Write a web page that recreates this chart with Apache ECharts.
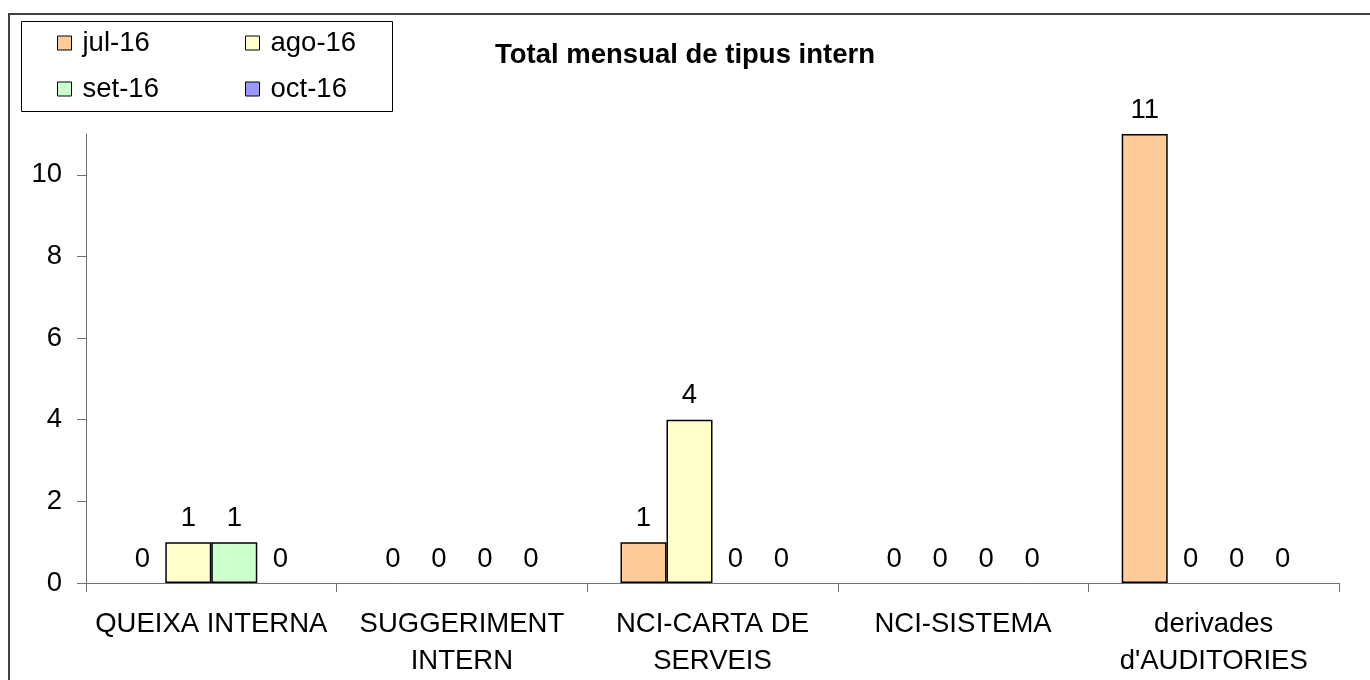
<!DOCTYPE html>
<html>
<head>
<meta charset="utf-8">
<title>Total mensual de tipus intern</title>
<script src="https://cdn.jsdelivr.net/npm/echarts@6/dist/echarts.min.js"></script>
<style>
  html, body { margin: 0; padding: 0; background: #fff; }
  #chart { width: 1370px; height: 680px; }
</style>
</head>
<body>
<div id="chart"></div>
<script>
// categories (x axis)
const categories = [
  "QUEIXA INTERNA",
  "SUGGERIMENT\nINTERN",
  "NCI-CARTA DE\nSERVEIS",
  "NCI-SISTEMA",
  "derivades\nd'AUDITORIES"
];

// months
const months = ["jul-16", "ago-16", "set-16", "oct-16"];

// values per month
const jul16 = [0, 0, 1, 0, 11];
const ago16 = [1, 0, 4, 0, 0];
const set16 = [1, 0, 0, 0, 0];
const oct16 = [0, 0, 0, 0, 0];

const yTicks = [0, 2, 4, 6, 8, 10];
const yMax = 11;

const monthColors = ["#FFCC99", "#FFFFCC", "#CCFFCC", "#9999FF"];
const font = "'Liberation Sans', Arial, sans-serif";
const fs = 27.5;

const chart = echarts.init(document.getElementById("chart"));

const seriesData = [jul16, ago16, set16, oct16];

const legendStyle = {
  orient: "vertical",
  top: 28,
  padding: 0,
  itemWidth: 14,
  itemHeight: 14,
  itemGap: 16,
  icon: "rect",
  itemStyle: { borderColor: "#000", borderWidth: 1 },
  textStyle: {
    fontFamily: font,
    fontSize: fs,
    color: "#000",
    lineHeight: 30,
    padding: [0, 0, 0, 6]
  }
};

const option = {
  backgroundColor: "#fff",
  animation: false,
  title: {
    text: "Total mensual de tipus intern",
    left: "center",
    top: 36,
    textStyle: {
      fontFamily: font,
      fontSize: fs,
      fontWeight: "bold",
      color: "#000"
    }
  },
  graphic: [
    {
      type: "rect",
      shape: { x: 9, y: 14, width: 1400, height: 700 },
      style: { fill: "none", stroke: "#404040", lineWidth: 2 },
      silent: true
    },
    {
      type: "rect",
      shape: { x: 21.5, y: 21.5, width: 371, height: 90 },
      style: { fill: "none", stroke: "#000", lineWidth: 1 },
      silent: true
    }
  ],
  legend: [
    Object.assign({}, legendStyle, { left: 57, data: [months[0], months[2]] }),
    Object.assign({}, legendStyle, { left: 245, data: [months[1], months[3]] })
  ],
  grid: {
    left: 86,
    right: 31,
    top: 134,
    bottom: 94,
    containLabel: false
  },
  xAxis: {
    type: "category",
    data: categories,
    boundaryGap: true,
    axisLine: { lineStyle: { color: "#707070", width: 1 } },
    axisTick: {
      show: true,
      inside: false,
      length: 9,
      alignWithLabel: false,
      lineStyle: { color: "#707070" }
    },
    axisLabel: {
      interval: 0,
      margin: 23,
      fontFamily: font,
      fontSize: fs,
      lineHeight: 37,
      color: "#000"
    },
    splitLine: { show: false }
  },
  yAxis: {
    type: "value",
    min: 0,
    max: yMax,
    interval: 2,
    axisLine: { show: true, lineStyle: { color: "#707070", width: 1 } },
    axisTick: {
      show: true,
      length: 9,
      customValues: yTicks,
      lineStyle: { color: "#707070" }
    },
    axisLabel: {
      margin: 24,
      customValues: yTicks,
      fontFamily: font,
      fontSize: fs,
      color: "#000"
    },
    splitLine: { show: false }
  },
  series: months.map((m, i) => ({
    name: m,
    type: "bar",
    // zero-height bars get no outline, like the original
    data: seriesData[i].map(v => (v === 0 ? { value: v, itemStyle: { borderWidth: 0 } } : v)),
    barWidth: 46,
    barGap: "0%",
    itemStyle: {
      color: monthColors[i],
      borderColor: "#000",
      borderWidth: 1.5
    },
    label: {
      show: true,
      position: "top",
      distance: 10,
      fontFamily: font,
      fontSize: fs,
      color: "#000"
    }
  }))
};

chart.setOption(option);
</script>
</body>
</html>
